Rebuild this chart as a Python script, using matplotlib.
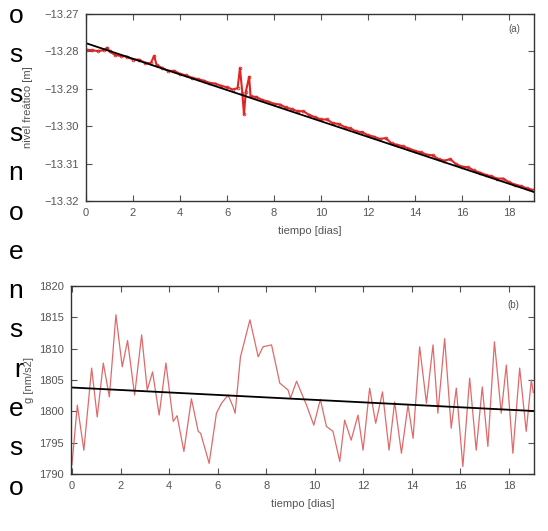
import matplotlib
matplotlib.use('Agg')
from matplotlib import pyplot as plt

plt.rcParams['font.family'] = ['Liberation Sans', 'DejaVu Sans']

# panel (a): nivel freatico
t_a = [0, 0.25, 0.5, 0.75, 0.9, 1.0, 1.25, 1.5, 1.75, 2.0, 2.25, 2.5, 2.75, 2.9, 3.0, 3.25,
       3.5, 3.75, 4.0, 4.25, 4.5, 4.75, 5.0, 5.25, 5.5, 5.75, 6.0, 6.25, 6.45, 6.55, 6.65,
       6.72, 6.8, 6.94, 7.0, 7.25, 7.5, 7.75, 8.0, 8.25, 8.5, 8.75, 9.0, 9.25, 9.5, 9.75,
       10.0, 10.25, 10.5, 10.75, 11.0, 11.25, 11.5, 11.75, 12.0, 12.25, 12.5, 12.75, 13.0,
       13.25, 13.5, 13.75, 14.0, 14.25, 14.5, 14.75, 15.0, 15.25, 15.5, 15.75, 16.0, 16.25,
       16.5, 16.75, 17.0, 17.25, 17.5, 17.75, 18.0, 18.25, 18.5, 18.75, 19.0]
nivel = [-13.2795, -13.2797, -13.2799, -13.2797, -13.2790, -13.2800, -13.2810, -13.2812,
         -13.2814, -13.2822, -13.2822, -13.2830, -13.2832, -13.2812, -13.2836, -13.2845,
         -13.2852, -13.2852, -13.2860, -13.2864, -13.2870, -13.2874, -13.2878, -13.2884,
         -13.2886, -13.2892, -13.2896, -13.2902, -13.2898, -13.2845, -13.2910, -13.2968,
         -13.2908, -13.2868, -13.2920, -13.2922, -13.2930, -13.2934, -13.2940, -13.2942,
         -13.2950, -13.2954, -13.2960, -13.2960, -13.2970, -13.2976, -13.2982, -13.2982,
         -13.2992, -13.2994, -13.3002, -13.3006, -13.3014, -13.3016, -13.3024, -13.3028,
         -13.3034, -13.3032, -13.3046, -13.3050, -13.3054, -13.3060, -13.3066, -13.3070,
         -13.3076, -13.3078, -13.3088, -13.3092, -13.3088, -13.3102, -13.3108, -13.3110,
         -13.3118, -13.3124, -13.3130, -13.3134, -13.3140, -13.3140, -13.3150, -13.3156,
         -13.3160, -13.3166, -13.3170]
ajuste_a_t = [0, 19.06]
ajuste_a = [-13.2778, -13.3176]

# panel (b): gravedad
t_b = [0, 0.22, 0.49, 0.81, 1.04, 1.29, 1.54, 1.81, 2.07, 2.29, 2.58, 2.87, 3.10, 3.32,
       3.59, 3.87, 4.17, 4.33, 4.61, 4.92, 5.20, 5.30, 5.65, 5.95, 6.16, 6.43, 6.64, 6.72,
       6.94, 7.33, 7.67, 7.87, 8.22, 8.56, 8.90, 9.00, 9.25, 9.66, 9.96, 10.23, 10.48,
       10.75, 11.03, 11.23, 11.50, 11.78, 11.99, 12.26, 12.51, 12.79, 13.06, 13.29, 13.57,
       13.84, 14.05, 14.32, 14.60, 14.87, 15.07, 15.35, 15.62, 15.83, 16.10, 16.38, 16.65,
       16.90, 17.13, 17.40, 17.68, 17.89, 18.16, 18.44, 18.71, 18.92, 19.0]
grav = [1791.5, 1801.0, 1793.8, 1806.9, 1799.1, 1807.7, 1802.3, 1815.4, 1807.1, 1811.3,
        1802.6, 1812.2, 1803.4, 1806.3, 1799.4, 1807.7, 1798.4, 1799.3, 1793.6, 1802.0,
        1796.8, 1796.5, 1791.7, 1799.7, 1801.3, 1802.6, 1800.7, 1799.7, 1808.7, 1814.6,
        1808.7, 1810.3, 1810.6, 1804.5, 1803.4, 1802.1, 1804.8, 1801.0, 1797.8, 1801.9,
        1797.6, 1796.8, 1792.0, 1798.6, 1795.4, 1799.4, 1793.8, 1803.7, 1798.1, 1803.1,
        1793.8, 1801.5, 1793.3, 1801.0, 1795.7, 1810.3, 1801.3, 1810.6, 1799.7, 1811.6,
        1797.3, 1803.7, 1791.2, 1805.3, 1793.8, 1803.9, 1794.4, 1811.1, 1799.7, 1807.4,
        1793.3, 1806.9, 1796.8, 1805.0, 1803.0]
ajuste_b_t = [0, 19.03]
ajuste_b = [1803.8, 1800.05]

# texto cortado del documento a la izquierda
letras = ['o', 's', 's', 's', 'n', 'o', 'e', 'n', 's', 'r', 'e', 's', 'o']

W, H = 548, 531
fig = plt.figure(figsize=(W / 100, H / 100), dpi=100)


def estilo(ax):
    ax.tick_params(direction='in', top=True, right=True, length=4, width=0.8,
                   labelsize=8, colors='#555555', pad=5)
    for s in ax.spines.values():
        s.set_linewidth(1.0)
        s.set_color('#333333')


ax1 = fig.add_axes([86 / W, 1 - 201 / H, (534 - 86) / W, (201 - 14) / H])
ax1.plot(t_a, nivel, color='#e02424', lw=1.5, marker='o', ms=2.0, mfc='none', mew=0.6)
ax1.plot(ajuste_a_t, ajuste_a, color='black', lw=1.3)
ax1.set_xlim(0, 19.06)
ax1.set_ylim(-13.32, -13.27)
ax1.set_xticks(range(0, 19, 2))
ax1.set_yticks([-13.32, -13.31, -13.30, -13.29, -13.28, -13.27])
ax1.set_yticklabels(['\u221213.32', '\u221213.31', '\u221213.30', '\u221213.29',
                     '\u221213.28', '\u221213.27'])
estilo(ax1)
ax1.set_xlabel('tiempo [dias]', fontsize=8, color='#555555', labelpad=6)
ax1.set_ylabel('nivel freático [m]', fontsize=8, color='#555555')
ax1.yaxis.set_label_coords((33 - 86) / 448, 0.5)
ax1.text(0.955, 0.92, '(a)', transform=ax1.transAxes, fontsize=7, color='#555555',
         ha='center', va='center')

ax2 = fig.add_axes([71 / W, 1 - 474 / H, (534 - 71) / W, (474 - 286) / H])
ax2.plot(t_b, grav, color='#e06a6a', lw=0.9)
ax2.plot(ajuste_b_t, ajuste_b, color='black', lw=1.3)
ax2.set_xlim(-0.04, 19.03)
ax2.set_ylim(1790, 1820)
ax2.set_xticks(range(0, 19, 2))
ax2.set_yticks(range(1790, 1821, 5))
estilo(ax2)
ax2.set_xlabel('tiempo [dias]', fontsize=8, color='#555555', labelpad=6)
ax2.set_ylabel('g [nm/s2]', fontsize=8, color='#555555')
ax2.yaxis.set_label_coords((34 - 71) / 463, 0.5)
ax2.text(0.955, 0.90, '(b)', transform=ax2.transAxes, fontsize=7, color='#555555',
         ha='center', va='center')

for i, c in enumerate(letras):
    fig.text(23 / W, 1 - (16 + 39.3 * i) / H, c, fontsize=19, color='black',
             ha='right', va='center')

fig.savefig('out.png', dpi=100)
